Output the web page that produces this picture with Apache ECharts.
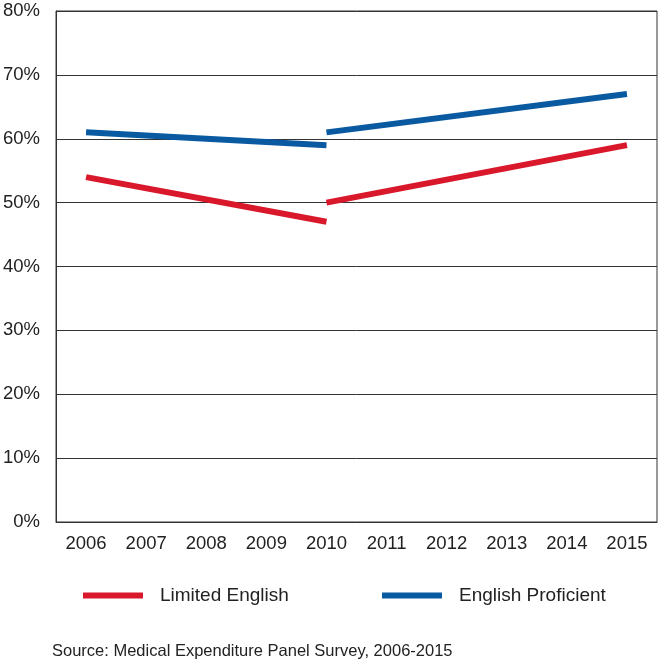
<!DOCTYPE html>
<html>
<head>
<meta charset="utf-8">
<script src="https://cdn.jsdelivr.net/npm/echarts@6/dist/echarts.min.js"></script>
<style>html,body{margin:0;padding:0;background:#fff}#c{width:661px;height:662px}</style>
</head>
<body>
<div id="c"></div>
<script>
const years = ['2006','2007','2008','2009','2010','2011','2012','2013','2014','2015'];
const yTicks = [0,10,20,30,40,50,60,70,80];
const limitedEarly = [['2006',54],['2010',47]];
const limitedLate = [['2010',50],['2015',59]];
const proficientEarly = [['2006',61],['2010',59]];
const proficientLate = [['2010',61],['2015',67]];
const seriesNames = ['Limited English','English Proficient'];
const sourceText = 'Source: Medical Expenditure Panel Survey, 2006-2015';

const RED = '#d9182b', BLUE = '#0a5aa2', INK = '#222';
const FONT = 'Liberation Sans, Arial, sans-serif';
const chart = echarts.init(document.getElementById('c'));
function seg(name, data, color){
  return {name, type:'line', data, symbol:'none', connectNulls:true,
    lineStyle:{color, width:6, cap:'butt'}, itemStyle:{color}, animation:false};
}
chart.setOption({
  animation:false,
  textStyle:{fontFamily:FONT},
  grid:{left:55, right:4, top:11, bottom:140, show:true, borderColor:'#333', borderWidth:1},
  xAxis:{type:'category', data:years, boundaryGap:true,
    axisLine:{lineStyle:{color:'#333', width:1}},
    axisTick:{inside:true, alignWithLabel:true, length:12, lineStyle:{color:'#333'}},
    axisLabel:{color:INK, fontSize:18.5, margin:12, fontFamily:FONT}},
  yAxis:{type:'value', min:yTicks[0], max:yTicks[yTicks.length-1], interval:10,
    axisLine:{show:true, lineStyle:{color:'#333'}},
    axisTick:{show:false},
    splitLine:{lineStyle:{color:'#333', width:1}},
    axisLabel:{color:INK, fontSize:18.5, margin:16, formatter:'{value}%', fontFamily:FONT}},
  legend:[
    {data:[{name:seriesNames[0], icon:'rect'}], left:83, top:586, padding:0, itemWidth:60, itemHeight:6, itemGap:0,
      textStyle:{color:INK, fontSize:19, padding:[0,0,0,12], fontFamily:FONT}, selectedMode:false},
    {data:[{name:seriesNames[1], icon:'rect'}], left:382, top:586, padding:0, itemWidth:60, itemHeight:6, itemGap:0,
      textStyle:{color:INK, fontSize:19, padding:[0,0,0,12], fontFamily:FONT}, selectedMode:false}
  ],
  graphic:[{type:'text', left:52, top:643, style:{text:sourceText, fill:INK, font:'16.5px '+FONT}}],
  series:[
    seg(seriesNames[0], limitedEarly, RED),
    seg(seriesNames[0], limitedLate, RED),
    seg(seriesNames[1], proficientEarly, BLUE),
    seg(seriesNames[1], proficientLate, BLUE)
  ]
});
</script>
</body>
</html>
